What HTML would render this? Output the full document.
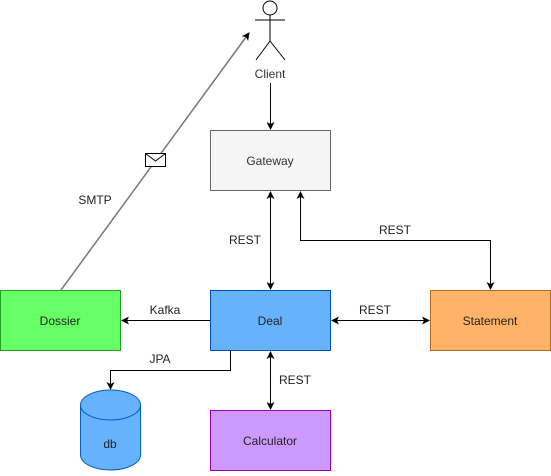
<!DOCTYPE html>
<html><head><meta charset="utf-8"><style>
html,body{margin:0;padding:0;background:#fff;}
svg text{font-family:"Liberation Sans",Arial,sans-serif;font-size:12px;}
</style></head><body>
<svg width="551" height="471" viewBox="0 0 551 471" xmlns="http://www.w3.org/2000/svg">
<defs>
<marker id="a" markerWidth="8" markerHeight="8" refX="7" refY="4" orient="auto-start-reverse" markerUnits="userSpaceOnUse">
<path d="M0,0 L8,4 L0,8 L2,4 Z" fill="#000"/>
</marker>
<marker id="g" markerWidth="8" markerHeight="8" refX="7" refY="4" orient="auto" markerUnits="userSpaceOnUse">
<path d="M0,0 L8,4 L0,8 L2,4 Z" fill="#000"/>
</marker>
</defs>
<!-- actor -->
<circle cx="270" cy="8" r="7" fill="#fff" stroke="#000"/>
<line x1="270" y1="15" x2="270" y2="41" stroke="#000"/>
<line x1="255" y1="20" x2="285" y2="20" stroke="#000"/>
<line x1="270" y1="41" x2="256" y2="60" stroke="#000"/>
<line x1="270" y1="41" x2="285" y2="60" stroke="#000"/>
<text x="270" y="78" text-anchor="middle" fill="#333">Client</text>
<!-- boxes -->
<rect x="210.5" y="130.5" width="120" height="60" fill="#f5f5f5" stroke="#666"/>
<text x="270" y="165" text-anchor="middle" fill="#333">Gateway</text>
<rect x="210.5" y="290.5" width="120" height="60" fill="#66b2ff" stroke="#0050b0"/>
<text x="270" y="325" text-anchor="middle" fill="#222">Deal</text>
<rect x="0.5" y="290.5" width="120" height="60" fill="#66ff66" stroke="#22a022"/>
<text x="60" y="325" text-anchor="middle" fill="#222">Dossier</text>
<rect x="430.5" y="290.5" width="120" height="60" fill="#ffb366" stroke="#b36b20"/>
<text x="490" y="325" text-anchor="middle" fill="#222">Statement</text>
<rect x="210.5" y="410.5" width="120" height="60" fill="#cc99ff" stroke="#9900aa"/>
<text x="270" y="445" text-anchor="middle" fill="#222">Calculator</text>
<!-- db -->
<path d="M80.5,405 A30,15 0 0 1 140.5,405 L140.5,455 A30,15 0 0 1 80.5,455 Z" fill="#66b2ff" stroke="#0060c0"/>
<path d="M80.5,405 A30,15 0 0 0 140.5,405" fill="none" stroke="#0060c0"/>
<text x="110" y="448" text-anchor="middle" fill="#222">db</text>
<!-- connectors -->
<line x1="270.5" y1="83" x2="270.5" y2="129" stroke="#000" marker-end="url(#g)"/>
<line x1="270.5" y1="192" x2="270.5" y2="289" stroke="#000" marker-start="url(#a)" marker-end="url(#a)"/>
<path d="M300.5,192 L300.5,240.5 L490.5,240.5 L490.5,289" fill="none" stroke="#000" marker-start="url(#a)" marker-end="url(#a)"/>
<line x1="332" y1="320.5" x2="429" y2="320.5" stroke="#000" marker-start="url(#a)" marker-end="url(#a)"/>
<line x1="210" y1="320.5" x2="122" y2="320.5" stroke="#000" marker-end="url(#g)"/>
<path d="M230.5,351 L230.5,370.5 L110.5,370.5 L110.5,389" fill="none" stroke="#000" marker-end="url(#g)"/>
<line x1="270.5" y1="352" x2="270.5" y2="409" stroke="#000" marker-start="url(#a)" marker-end="url(#a)"/>
<line x1="61" y1="290" x2="249" y2="33" stroke="#777" stroke-width="1.5" marker-end="url(#g)"/>
<rect x="145.5" y="153.5" width="20" height="13" fill="#fff" stroke="#000"/>
<path d="M145.5,153.5 L155.5,161 L165.5,153.5" fill="none" stroke="#000"/>
<!-- labels -->
<text x="245" y="244" text-anchor="middle" fill="#222">REST</text>
<text x="395" y="234" text-anchor="middle" fill="#222">REST</text>
<text x="375" y="314" text-anchor="middle" fill="#222">REST</text>
<text x="165" y="314" text-anchor="middle" fill="#222">Kafka</text>
<text x="160" y="363" text-anchor="middle" fill="#222">JPA</text>
<text x="295" y="384" text-anchor="middle" fill="#222">REST</text>
<text x="95" y="204" text-anchor="middle" fill="#222">SMTP</text>
</svg>
</body></html>
